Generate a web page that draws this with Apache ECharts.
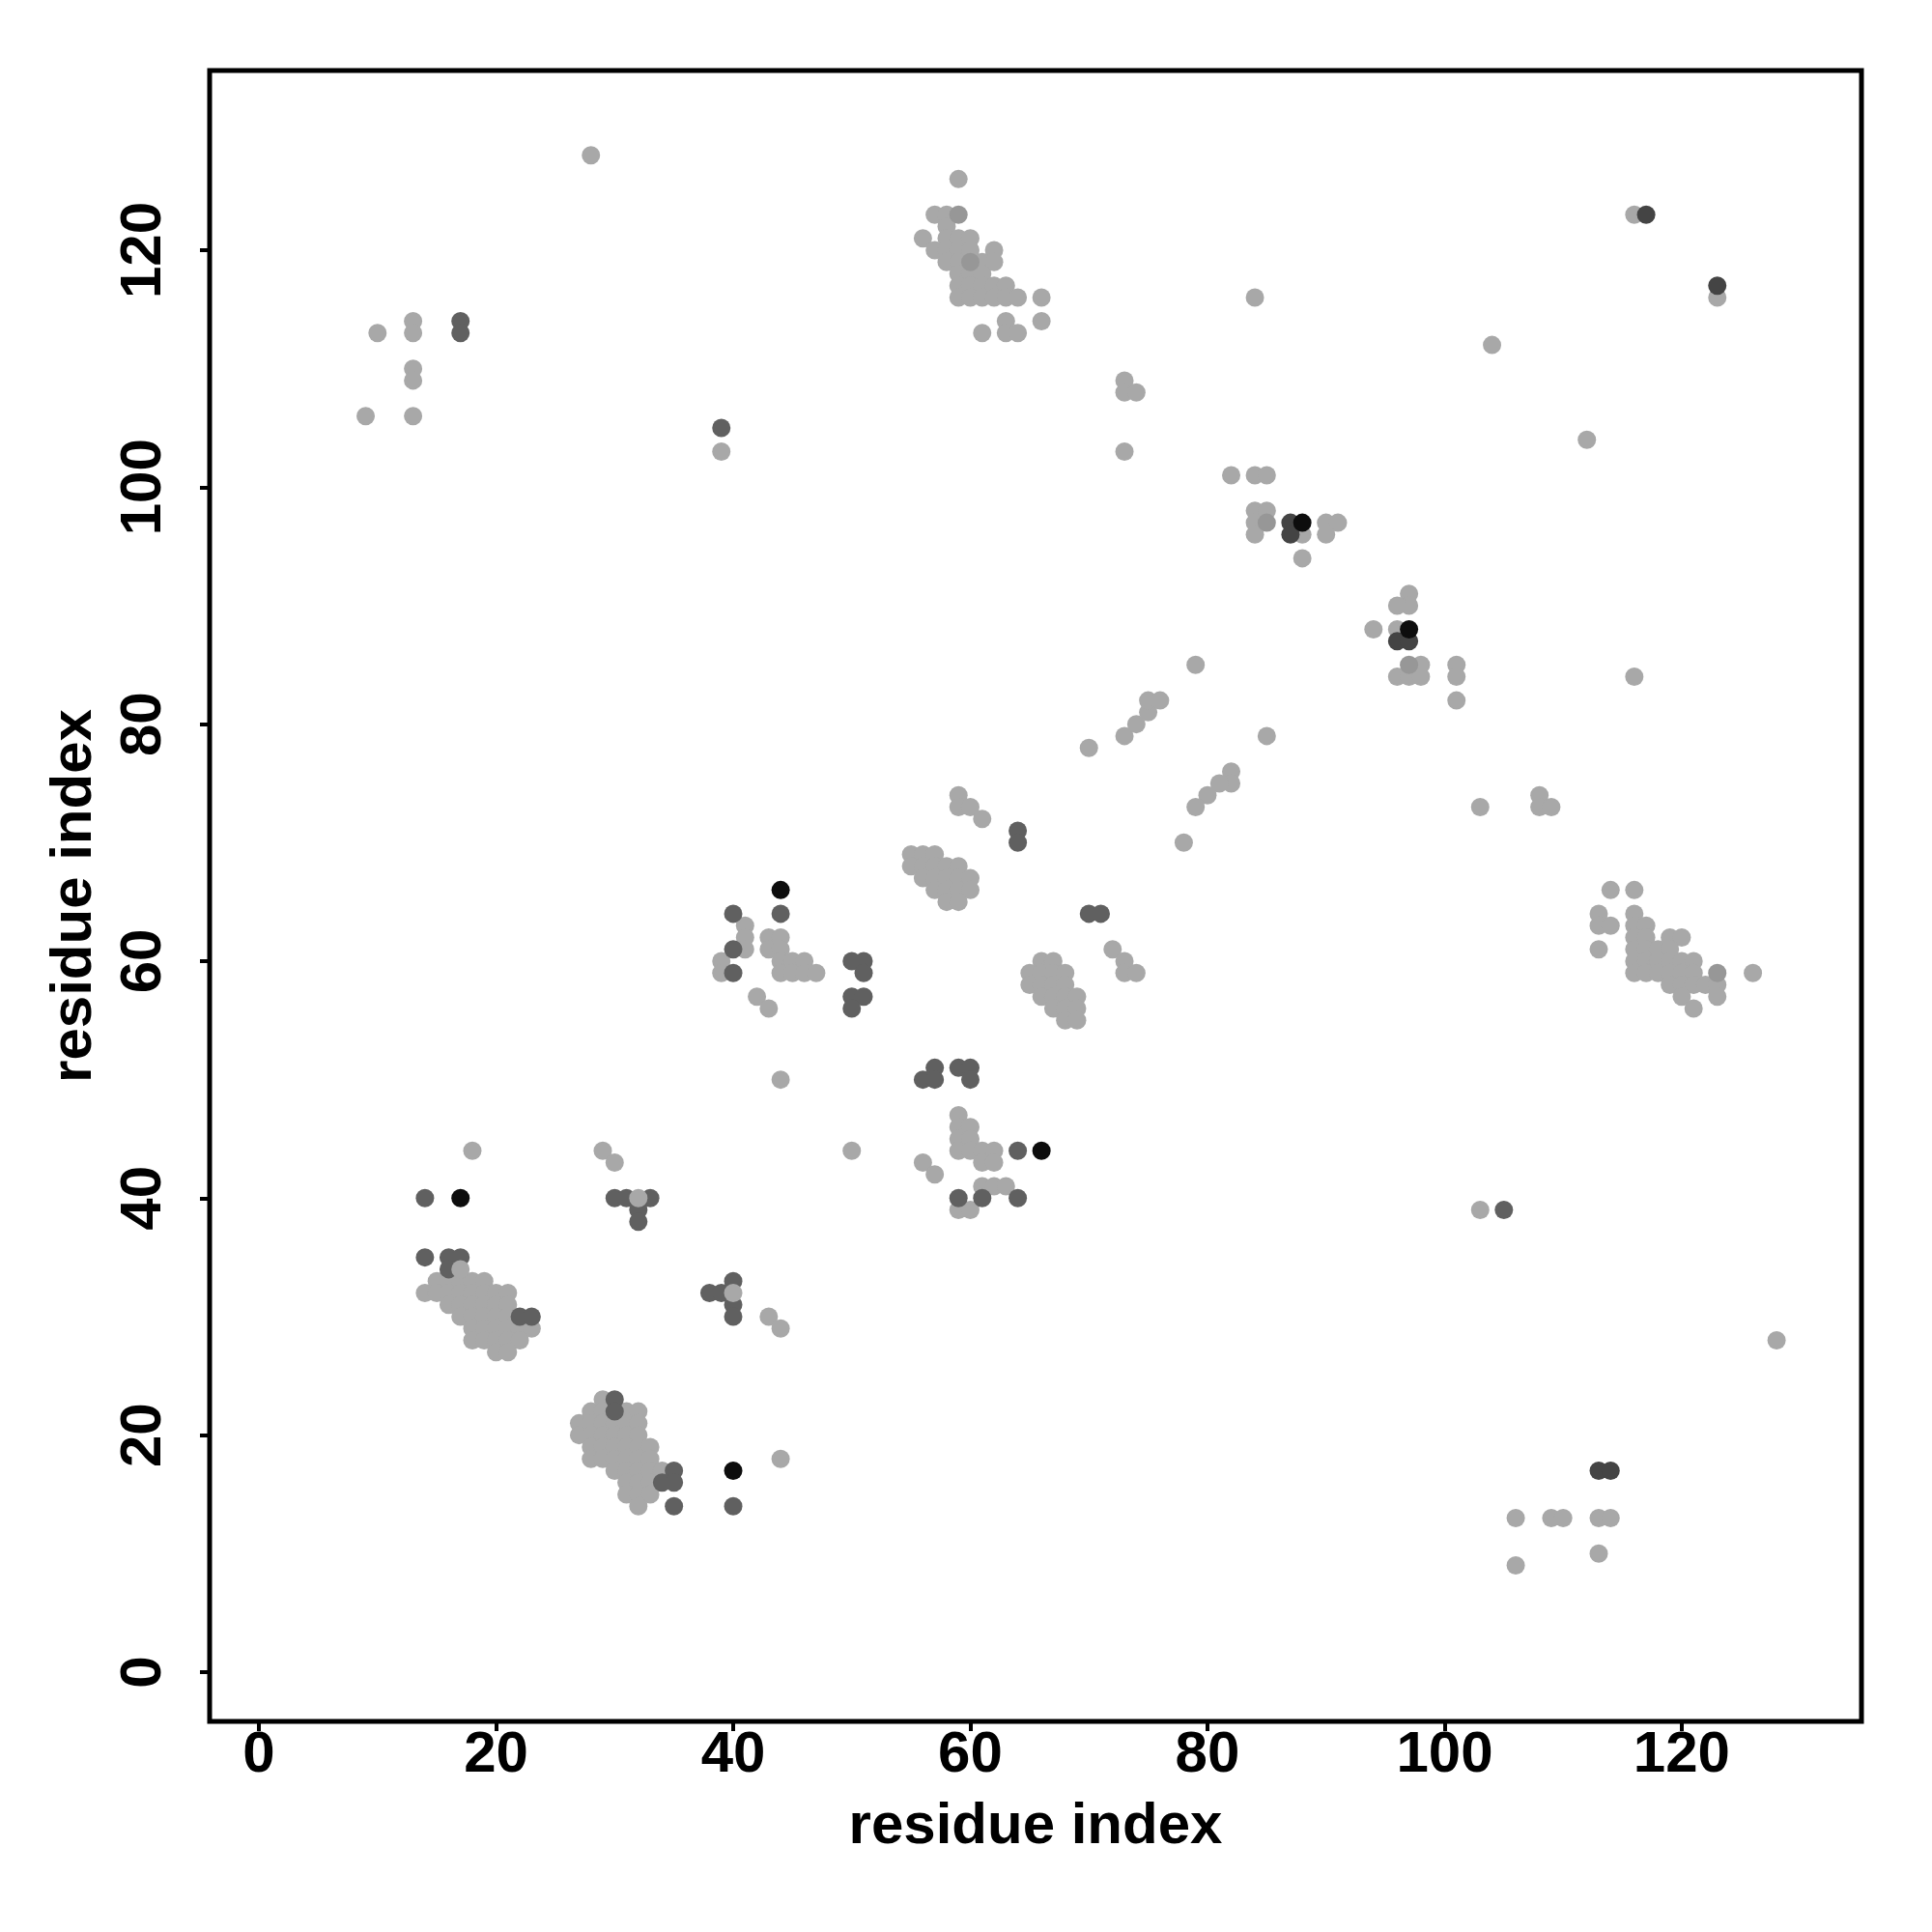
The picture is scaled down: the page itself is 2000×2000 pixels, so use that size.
<!DOCTYPE html>
<html>
<head>
<meta charset="utf-8">
<script src="https://cdn.jsdelivr.net/npm/echarts@6/dist/echarts.min.js"></script>
<style>
html,body{margin:0;padding:0;background:#fff;}
#chart{width:2000px;height:2000px;}
</style>
</head>
<body>
<div id="chart"></div>
<script>
// tick labels (both axes)
const tickValues = [0, 20, 40, 60, 80, 100, 120];
const axisTitle = 'residue index';

// contacts, grouped by grey level
const lightPts = [
  [28,128],[9,106],[10,113],[13,114],[13,113],[13,110],[13,109],[13,106],[39,103],
  [59,126],[57,123],[58,123],[58,122],[56,121],[58,121],[59,121],[60,121],
  [57,120],[58,120],[59,120],[60,120],[62,120],
  [58,119],[59,119],[61,119],[62,119],
  [59,118],[60,118],[61,118],
  [59,117],[60,117],[61,117],[62,117],[63,117],
  [59,116],[60,116],[61,116],[62,116],[63,116],[64,116],[66,116],
  [63,114],[66,114],[61,113],[63,113],[64,113],
  [84,116],[73,109],[73,108],[74,108],[73,103],
  [82,101],[84,101],[85,101],[84,98],[85,98],[84,97],[84,96],[88,96],[88,94],
  [90,97],[91,97],[90,96],
  [116,123],[123,116],[104,112],[112,104],[97,91],[97,90],[96,90],
  [94,88],[96,88],[98,85],[96,84],[97,84],[98,84],[101,85],[101,84],[101,82],[116,84],
  [103,73],[108,74],[108,73],[109,73],
  [114,66],[116,66],[113,64],[116,64],[113,63],[114,63],[116,63],[117,63],[113,61],
  [116,62],[117,62],[119,62],[120,62],
  [116,61],[117,61],[118,61],[119,61],
  [116,60],[117,60],[118,60],[119,60],[120,60],[121,60],
  [116,59],[117,59],[118,59],[119,59],[120,59],[121,59],[126,59],
  [119,58],[120,58],[121,58],[122,58],[123,58],
  [120,57],[123,57],[121,56],
  [18,44],[29,44],[30,43],[39,60],[39,59],[41,63],[41,62],[41,61],[42,57],[43,56],
  [43,62],[44,62],[43,61],[44,61],[44,60],[45,60],[46,60],[44,59],[45,59],[46,59],[47,59],
  [44,50],[50,44],
  [59,74],[59,73],[60,73],[61,72],
  [55,69],[56,69],[57,69],[55,68],[56,68],[57,68],[58,68],[59,68],
  [56,67],[57,67],[58,67],[59,67],[60,67],[57,66],[58,66],[59,66],[60,66],[58,65],[59,65],
  [70,78],[73,79],[74,80],[75,81],[75,82],[76,82],[79,85],[85,79],
  [82,76],[82,75],[81,75],[80,74],[79,73],[78,70],
  [72,61],[73,60],[73,59],[74,59],
  [66,60],[67,60],[65,59],[66,59],[67,59],[68,59],[65,58],[66,58],[67,58],[68,58],
  [66,57],[67,57],[68,57],[69,57],[67,56],[68,56],[69,56],[68,55],[69,55],
  [59,47],[59,46],[60,46],[59,45],[60,45],[59,44],[60,44],[61,44],[62,44],[61,43],[62,43],
  [56,43],[57,42],[61,41],[62,41],[63,41],[59,39],[60,39],
  [43,30],[44,29],[44,18],
  [103,39],[128,28],[106,13],[109,13],[110,13],[113,13],[114,13],[106,9],[113,10],
  [15,33],[16,33],[17,33],[18,33],[19,33],
  [14,32],[15,32],[16,32],[17,32],[18,32],[19,32],[20,32],[21,32],
  [16,31],[17,31],[18,31],[19,31],[20,31],[21,31],
  [17,30],[18,30],[19,30],[20,30],[21,30],
  [18,29],[19,29],[20,29],[21,29],[22,29],[23,29],
  [18,28],[19,28],[20,28],[21,28],[22,28],
  [20,27],[21,27],
  [29,23],
  [28,22],[29,22],[31,22],[32,22],
  [27,21],[28,21],[29,21],[30,21],[31,21],[32,21],
  [27,20],[28,20],[29,20],[30,20],[31,20],[32,20],
  [28,19],[29,19],[30,19],[31,19],[32,19],[33,19],
  [28,18],[29,18],[30,18],[31,18],[32,18],[33,18],
  [30,17],[31,17],[32,17],[33,17],[34,17],
  [31,16],[32,16],[33,16],
  [31,15],[32,15],[33,15],
  [32,14]
];
const midPts = [
  [59,123],[60,119],[85,97],[97,85],[123,59]
];
const darkPts = [
  [17,114],[17,113],[39,105],[14,40],[30,40],[31,40],[33,40],[32,39],[32,38],
  [14,35],[16,35],[17,35],[16,34],[22,30],[23,30],[30,23],[30,22],
  [35,17],[34,16],[35,16],[35,14],[40,14],
  [40,33],[38,32],[39,32],[40,31],[40,30],
  [40,64],[40,61],[40,59],[44,64],[64,71],[64,70],
  [50,60],[51,60],[51,59],[50,57],[51,57],[50,56],
  [56,50],[57,51],[57,50],[59,51],[60,51],[60,50],
  [59,40],[61,40],[64,40],[64,44],[70,64],[71,64],[105,39]
];
const lateLightPts = [
  [32,40],[40,32],[17,34]
];
const darkerPts = [
  [117,123],[123,117],[87,97],[87,96],[96,87],[97,87],[113,17],[114,17]
];
const blackPts = [
  [17,40],[40,17],[44,66],[66,44],[88,97],[97,88]
];

const FONT = '"Liberation Sans", Arial, Helvetica, sans-serif';

function makeAxis(isY) {
  return {
    type: 'value',
    min: -4.16,
    max: 135.16,
    axisLine: { show: false, onZero: false },
    splitLine: { show: false },
    axisTick: {
      show: true,
      customValues: tickValues,
      length: 10,
      inside: false,
      lineStyle: { color: '#000', width: 4 }
    },
    axisLabel: {
      show: true,
      customValues: tickValues,
      fontSize: 60,
      fontWeight: 'bold',
      fontFamily: FONT,
      color: '#000',
      margin: isY ? 38 : 5,
      rotate: isY ? 90 : 0
    },
    name: axisTitle,
    nameLocation: 'middle',
    nameGap: isY ? 110 : 79,
    nameTextStyle: {
      fontSize: 60,
      fontWeight: 'bold',
      fontFamily: FONT,
      color: '#000'
    }
  };
}

function sc(data, color) {
  return {
    type: 'scatter',
    data: data,
    symbol: 'circle',
    symbolSize: 19,
    itemStyle: { color: color, opacity: 1 },
    silent: true,
    animation: false
  };
}

const chart = echarts.init(document.getElementById('chart'), null, { renderer: 'canvas' });
chart.setOption({
  backgroundColor: '#fff',
  animation: false,
  grid: {
    left: 217, top: 73, right: 73, bottom: 218,
    show: true, borderColor: '#000', borderWidth: 5, backgroundColor: 'transparent'
  },
  xAxis: makeAxis(false),
  yAxis: makeAxis(true),
  series: [
    sc(lightPts, '#a8a8a8'),
    sc(midPts, '#979797'),
    sc(darkPts, '#606060'),
    sc(lateLightPts, '#a8a8a8'),
    sc(darkerPts, '#444444'),
    sc(blackPts, '#0d0d0d')
  ]
});
</script>
</body>
</html>
